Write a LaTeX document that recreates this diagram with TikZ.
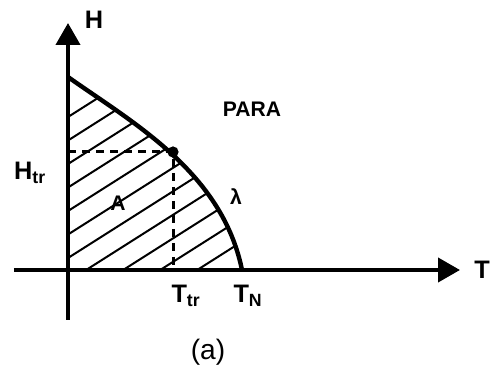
\documentclass[tikz,border=0pt]{standalone}
\usepackage{fontspec}
\setmainfont{Liberation Sans}
\usetikzlibrary{arrows.meta}

\begin{document}
\begin{tikzpicture}[
  x=0.25mm,
  y=0.25mm,
  axis/.style={line width=1mm, -{Triangle[length=5.5mm, width=6mm]}},
  boundary/.style={line width=1.1mm},
  hatch/.style={line width=0.5mm},
  guide/.style={line width=0.75mm, dash pattern=on 2mm off 1.5mm},
  lbl/.style={inner sep=1pt, font=\bfseries\fontsize{18}{18}\selectfont},
  small/.style={inner sep=1pt, font=\bfseries\fontsize{15}{15}\selectfont}
]
\useasboundingbox (-68,-104) rectangle (425,270);

\coordinate (O) at (0,0);
\coordinate (Hbot) at (0,-50);
\coordinate (Hend) at (0,247);
\coordinate (Tbeg) at (-54,0);
\coordinate (Tend) at (392,0);
\coordinate (start) at (0,193);
\coordinate (trip) at (105,118);
\coordinate (neel) at (174,0);
\coordinate (Hdash) at (0,118);
\coordinate (Tdash) at (105,0);

% hatched antiferro region
\begin{scope}
  \clip (O) -- (start) .. controls (65,147) and (154,98) .. (neel) -- cycle;
  \foreach \c in {-82,-58.5,...,154} \draw[hatch] (0,\c) -- ++(32.4:300);
\end{scope}

\draw[axis] (Tbeg) -- (Tend);
\draw[axis] (Hbot) -- (Hend);
\draw[boundary] (start) .. controls (65,147) and (154,98) .. (neel);
\draw[guide] (Hdash) -- (trip) -- (Tdash);
\fill (trip) circle (1.4mm);

\node[lbl] (hlab) at (26,250) {H};
\node[lbl] (tlab) at (414,0) {T};
\node[small] (para) at (184,161) {PARA};
\node[small] (lam) at (168,73) {λ};
\node[small] (alab) at (50,67) {A};
\node[lbl] (htr) at (-38,97) {H\textsubscript{tr}};
\node[lbl] (ttr) at (118,-26) {T\textsubscript{tr}};
\node[lbl] (tn) at (180,-26) {T\textsubscript{N}};
\node[font=\fontsize{20}{20}\selectfont] (cap) at (140,-82) {(a)};
\end{tikzpicture}
\end{document}
